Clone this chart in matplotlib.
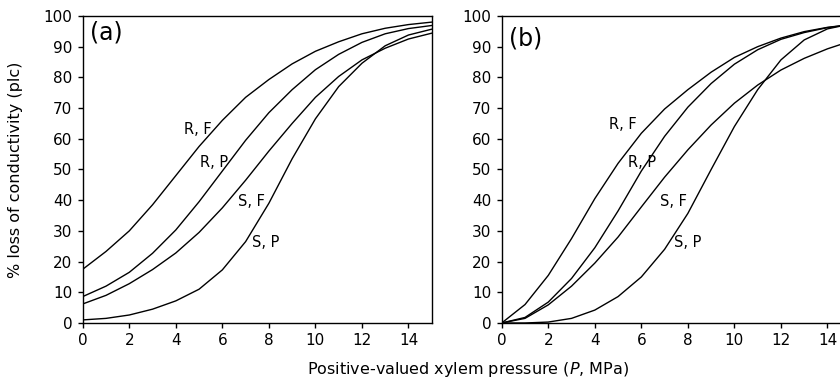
import matplotlib
matplotlib.use("Agg")
import matplotlib.pyplot as plt

plt.rcParams["font.family"] = ["DejaVu Sans"]
plt.rcParams["mathtext.fontset"] = "custom"
plt.rcParams["mathtext.it"] = "DejaVu Sans:italic"
plt.rcParams["mathtext.rm"] = "DejaVu Sans"

# pressure (MPa)
pressure = list(range(16))

# panel (a), plc values read at each MPa
a_rf = [17.5, 23.3, 30, 38.5, 48, 57.5, 66, 73.5, 79.3, 84.4, 88.5, 91.6, 94.2, 96, 97.2, 98]
a_rp = [8.6, 12, 16.5, 22.7, 30.3, 39.5, 49.5, 59.5, 68.5, 76, 82.5, 87.5, 91.4, 94.2, 95.9, 96.9]
a_sf = [6.2, 9, 12.8, 17.4, 22.8, 29.5, 37.5, 46.5, 56, 65, 73.5, 80.3, 85.7, 89.5, 92.5, 94.4]
a_sp = [1, 1.5, 2.6, 4.5, 7.2, 11, 17.3, 26.5, 39, 53.5, 66.5, 77, 84.6, 90.3, 93.8, 95.7]

# panel (b)
b_rf = [0, 6, 15.5, 27.5, 40.5, 52, 61.8, 69.7, 76, 81.7, 86.5, 90, 92.8, 94.9, 96.3, 97.2]
b_rp = [0, 1.8, 6.8, 14.5, 24.5, 36.5, 49.5, 60.8, 70.3, 78, 84.3, 89, 92.4, 94.6, 96.2, 97.2]
b_sf = [0, 1.5, 5.9, 12, 19.5, 28, 37.8, 47.5, 56.4, 64.5, 71.6, 77.5, 82.4, 86.2, 89.3, 91.8]
b_sp = [0, 0, 0.3, 1.5, 4.2, 8.6, 15, 24, 35.7, 50, 64, 76, 85.7, 92.2, 95.8, 97.4]

curve_names = ["R, F", "R, P", "S, F", "S, P"]
# label anchor points (x, y) in data units
a_label_pos = [(4.93, 62.9), (5.64, 52.3), (7.25, 39.7), (7.88, 26.1)]
b_label_pos = [(5.21, 64.5), (6.02, 52.3), (7.38, 39.7), (8.0, 26.1)]

fig = plt.figure(figsize=(8.4, 3.84), dpi=100)
ax_a = fig.add_axes([0.0985, 0.1589, 0.4155, 0.7995])
ax_b = fig.add_axes([0.5973, 0.1589, 0.4155, 0.7995])

panels = [
    (ax_a, "(a)", [a_rf, a_rp, a_sf, a_sp], a_label_pos, 94.6),
    (ax_b, "(b)", [b_rf, b_rp, b_sf, b_sp], b_label_pos, 92.6),
]

for ax, tag, series, label_pos, tag_y in panels:
    for vals in series:
        ax.plot(pressure, vals, color="black", lw=1.0)
    for name, (lx, ly) in zip(curve_names, label_pos):
        ax.text(lx, ly, name, ha="center", va="center", fontsize=10.5)
    ax.text(1.03, tag_y, tag, ha="center", va="center", fontsize=17)
    ax.set_xlim(0, 15)
    ax.set_ylim(0, 100)
    ax.set_xticks(range(0, 15, 2))
    ax.set_yticks(range(0, 101, 10))
    ax.tick_params(direction="out", length=3.5, width=1, labelsize=11, pad=4)
    for sp in ax.spines.values():
        sp.set_linewidth(1.0)

ax_a.set_ylabel("% loss of conductivity (plc)", fontsize=11.5)
ax_a.yaxis.set_label_coords(-0.171, 0.5)

fig.text(0.557, 0.039, "Positive-valued xylem pressure ($P$, MPa)",
         ha="center", va="center", fontsize=11.5)

fig.savefig("out.png", dpi=100)
